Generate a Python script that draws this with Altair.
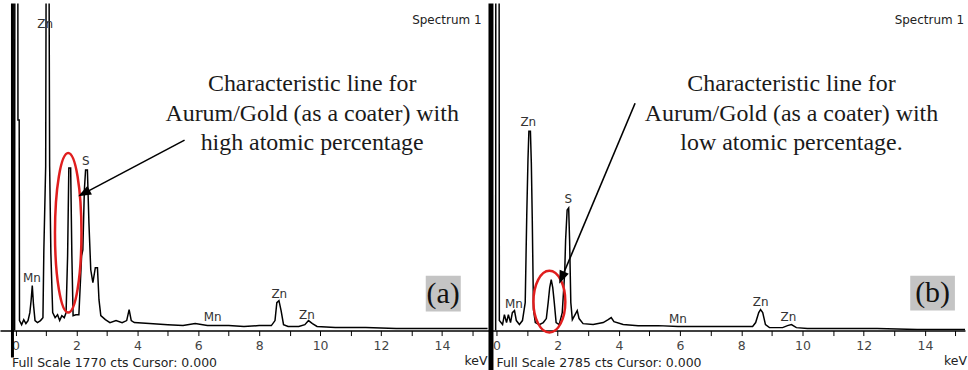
import altair as alt
import pandas as pd

# ---------------- data ----------------
# Panel (a): spectrum (energy in keV, counts)
A_KEV = [-0.03, -0.02, 0.07, 0.08, 0.12, 0.13, 0.20, 0.27, 0.34, 0.41, 0.47, 0.51, 0.55, 0.59,
         0.64, 0.72, 0.82, 0.90, 0.93, 0.99, 1.02, 1.08, 1.12, 1.16, 1.22, 1.30, 1.38, 1.45,
         1.52, 1.60, 1.66, 1.71, 1.75, 1.81, 1.85, 1.89, 1.98, 2.08, 2.17, 2.21, 2.26, 2.30,
         2.36, 2.41, 2.47, 2.54, 2.62, 2.69, 2.74, 2.80, 2.95, 3.10, 3.30, 3.50, 3.65, 3.73,
         3.80, 3.90, 4.40, 5.00, 5.50, 5.90, 6.30, 7.00, 7.50, 8.00, 8.40, 8.52, 8.58, 8.65,
         8.72, 8.80, 8.95, 9.30, 9.50, 9.62, 9.75, 9.90, 10.5, 11.5, 12.5, 13.5, 14.5, 15.5]
A_CTS = [0, 3000, 3000, 1140, 1140, 54, 32, 59, 38, 54, 97, 160, 243, 140,
         54, 43, 54, 70, 437, 890, 3000, 3000, 890, 421, 97, 70, 86, 54,
         81, 70, 97, 405, 880, 880, 405, 81, 86, 86, 405, 437, 761, 869,
         869, 583, 329, 259, 340, 340, 167, 81, 59, 43, 54, 43, 54, 113,
         54, 43, 38, 32, 27, 38, 27, 27, 22, 27, 27, 54, 151, 162,
         108, 32, 22, 22, 32, 54, 38, 22, 16, 16, 11, 11, 11, 11]

# Panel (b): spectrum
B_KEV = [-0.025, -0.02, 0.085, 0.095, 0.20, 0.26, 0.33, 0.39, 0.46, 0.52, 0.59, 0.65, 0.75,
         0.85, 0.94, 0.99, 1.03, 1.06, 1.11, 1.14, 1.17, 1.21, 1.27, 1.40, 1.53, 1.63, 1.69,
         1.74, 1.79, 1.84, 1.89, 1.95, 2.05, 2.15, 2.23, 2.26, 2.31, 2.36, 2.39, 2.43, 2.48,
         2.57, 2.64, 2.70, 2.83, 3.16, 3.49, 3.65, 3.75, 3.84, 4.14, 4.63, 5.28, 5.93, 6.58,
         7.23, 7.88, 8.37, 8.47, 8.57, 8.63, 8.70, 8.79, 8.92, 9.35, 9.51, 9.64, 9.80, 10.16,
         11.14, 12.44, 13.75, 15.31]
B_CTS = [0, 4000, 4000, 85, 51, 136, 68, 136, 68, 153, 170, 85, 51,
         85, 238, 976, 1452, 1698, 1698, 1426, 960, 178, 68, 51, 68, 102, 238,
         365, 433, 365, 238, 68, 51, 153, 492, 773, 1027, 1044, 773, 238, 93,
         136, 170, 102, 59, 51, 68, 93, 110, 76, 51, 42, 42, 34, 34,
         34, 34, 34, 68, 153, 178, 153, 51, 25, 25, 42, 51, 25, 17,
         17, 17, 8, 8]

# Peak labels
PEAK_NAMES = ["Zn", "S", "Mn", "Mn", "Zn", "Zn"]
A_PEAK_KEV = [0.97, 2.31, 0.54, 6.47, 8.66, 9.57]
A_PEAK_CTS = [1657, 917, 286, 76, 200, 84]
B_PEAK_KEV = [1.04, 2.35, 0.57, 5.93, 8.63, 9.54]
B_PEAK_CTS = [1774, 1121, 225, 102, 246, 119]

# Annotations
A_NOTE = ["Characteristic line for", "Aurum/Gold (as a coater) with", "high atomic percentage"]
B_NOTE = ["Characteristic line for", "Aurum/Gold (as a coater) with", "low atomic percentage."]
A_NOTE_KEV, A_NOTE_CTS = 9.74, [1295, 1133, 977]
B_NOTE_KEV, B_NOTE_CTS = 9.64, [2038, 1783, 1537]

FULL_SCALE = [1770, 2785]
TAGS = ["(a)", "(b)"]
TICKS = [0, 0.5, 1, 1.5, 2, 2.5, 3, 3.5, 4, 4.5, 5, 5.5, 6, 6.5, 7, 7.5,
         8, 8.5, 9, 9.5, 10, 10.5, 11, 11.5, 12, 12.5, 13, 13.5, 14, 14.5, 15, 15.5]

PLOT_H = 328
SERIF = "Liberation Serif, Times New Roman, DejaVu Serif, serif"


def ellipse_path(a):
    k = 0.5523
    f = lambda v: f"{v:.4f}"
    return (f"M0,-1 C{f(k*a)},-1 {f(a)},{f(-k)} {f(a)},0 "
            f"C{f(a)},{f(k)} {f(k*a)},1 0,1 "
            f"C{f(-k*a)},1 {f(-a)},{f(k)} {f(-a)},0 "
            f"C{f(-a)},{f(-k)} {f(-k*a)},-1 0,-1 Z")


HEAD = "M0,0 L0.38,1 L-0.38,1 Z"


def panel(kev, cts, full, dom, width, pk_kev, pk_cts, note, note_kev, note_cts,
          ell_xy, ell_a, ell_size, arrow, head_angle, box, tag, tag_xy,
          frame_x, frame_w, frame_h, spec_x, fs_x, kev_x, kev_align):
    xs = alt.Scale(domain=dom, nice=False, zero=False)
    ys = alt.Scale(domain=[0, full], nice=False, zero=False)
    ax = alt.Axis(values=TICKS, format="d",
                  labelExpr="datum.value % 2 == 0 ? datum.label : ''",
                  title=None, grid=False, domainColor="black", domainWidth=1.5,
                  tickColor="black", tickSize=5, tickWidth=1, labelFont="DejaVu Sans",
                  labelFontSize=12.5, labelColor="#444444", labelPadding=4,
                  labelOverlap=False, labelFlush=False, labelBound=False)
    X = lambda f: alt.X(f, type="quantitative", scale=xs, axis=ax)
    Y = lambda f: alt.Y(f, type="quantitative", scale=ys, axis=None)

    spec = pd.DataFrame({"keV": kev, "cts": cts, "i": list(range(len(kev)))})
    line = alt.Chart(spec).mark_line(color="black", strokeWidth=1.5, clip=True).encode(
        x=X("keV"), y=Y("cts"), order="i:Q")

    pk = pd.DataFrame({"keV": pk_kev, "cts": pk_cts, "t": PEAK_NAMES})
    peaks = alt.Chart(pk).mark_text(font="DejaVu Sans", fontSize=12, color="#333333",
                                    align="center", baseline="middle").encode(
        x=X("keV"), y=Y("cts"), text="t:N")

    nd = pd.DataFrame({"keV": [note_kev] * len(note), "cts": note_cts, "t": note})
    notes = alt.Chart(nd).mark_text(font=SERIF, fontSize=24, color="#1a1a1a",
                                    align="center", baseline="alphabetic").encode(
        x=X("keV"), y=Y("cts"), text="t:N")

    ed = pd.DataFrame({"keV": [ell_xy[0]], "cts": [ell_xy[1]]})
    ellipse = alt.Chart(ed).mark_point(shape=ellipse_path(ell_a), size=ell_size, filled=False,
                                       stroke="#e01e1e", strokeWidth=2.5, opacity=1).encode(
        x=X("keV"), y=Y("cts"))

    ad = pd.DataFrame({"x": [arrow[0]], "y": [arrow[1]], "x2": [arrow[2]], "y2": [arrow[3]],
                       "tx": [arrow[4]], "ty": [arrow[5]]})
    shaft = alt.Chart(ad).mark_rule(color="black", strokeWidth=1.6).encode(
        x=X("x"), y=Y("y"), x2="x2", y2="y2")
    head = alt.Chart(ad).mark_point(shape=HEAD, size=676, filled=True, color="black",
                                    angle=head_angle, opacity=1).encode(x=X("tx"), y=Y("ty"))

    bd = pd.DataFrame({"x": [box[0]], "x2": [box[1]], "y": [box[2]], "y2": [box[3]]})
    tagbox = alt.Chart(bd).mark_rect(fill="#c4c4c4").encode(x=X("x"), x2="x2", y=Y("y"), y2="y2")
    td = pd.DataFrame({"keV": [tag_xy[0]], "cts": [tag_xy[1]], "t": [tag]})
    tagtext = alt.Chart(td).mark_text(font=SERIF, fontSize=30, color="#111111",
                                      align="center", baseline="middle").encode(
        x=X("keV"), y=Y("cts"), text="t:N")

    fr = pd.DataFrame({"v": [0]})
    frame = alt.Chart(fr).mark_rule(color="black", strokeWidth=frame_w).encode(
        x=alt.value(frame_x), y=alt.value(0), y2=alt.value(frame_h))

    sp = alt.Chart(pd.DataFrame({"t": ["Spectrum 1"]})).mark_text(
        font="DejaVu Sans", fontSize=12, color="#222222", align="right",
        baseline="alphabetic").encode(x=alt.value(spec_x), y=alt.value(20), text="t:N")
    fs = alt.Chart(pd.DataFrame({"t": [f"Full Scale {full} cts Cursor: 0.000"]})).mark_text(
        font="DejaVu Sans", fontSize=12.5, color="#222222", align="left",
        baseline="alphabetic").encode(x=alt.value(fs_x), y=alt.value(365), text="t:N")
    kv = alt.Chart(pd.DataFrame({"t": ["keV"]})).mark_text(
        font="DejaVu Sans", fontSize=12.5, color="#222222", align=kev_align,
        baseline="alphabetic").encode(x=alt.value(kev_x), y=alt.value(363), text="t:N")

    return alt.layer(tagbox, tagtext, line, peaks, notes, ellipse, shaft, head,
                     frame, sp, fs, kv).properties(width=width, height=PLOT_H)


pa = panel(A_KEV, A_CTS, FULL_SCALE[0], [-0.51, 15.53], 490,
           A_PEAK_KEV, A_PEAK_CTS, A_NOTE, A_NOTE_KEV, A_NOTE_CTS,
           (1.73, 529), 0.166, 25600,
           (5.55, 1031, 2.26, 744, 2.056, 727), 242.4,
           (13.47, 14.62, 103, 297), TAGS[0], (14.04, 200),
           12.5, 3, 355, 483, 12, 489, "right")

pb = panel(B_KEV, B_CTS, FULL_SCALE[1], [-0.26, 15.31], 478,
           B_PEAK_KEV, B_PEAK_CTS, B_NOTE, B_NOTE_KEV, B_NOTE_CTS,
           (1.73, 246), 0.516, 3844,
           (4.53, 1936, 2.14, 454, 2.05, 399), 202.8,
           (13.52, 14.98, 170, 467), TAGS[1], (14.25, 318),
           2.5, 5, 370, 477, 8, 457, "left")

chart = alt.hconcat(pa, pb, spacing=0, bounds="flush").properties(
    padding=0, background="white").configure_view(stroke=None)

chart.save("out.html", embed_options={"renderer": "svg", "actions": False})
